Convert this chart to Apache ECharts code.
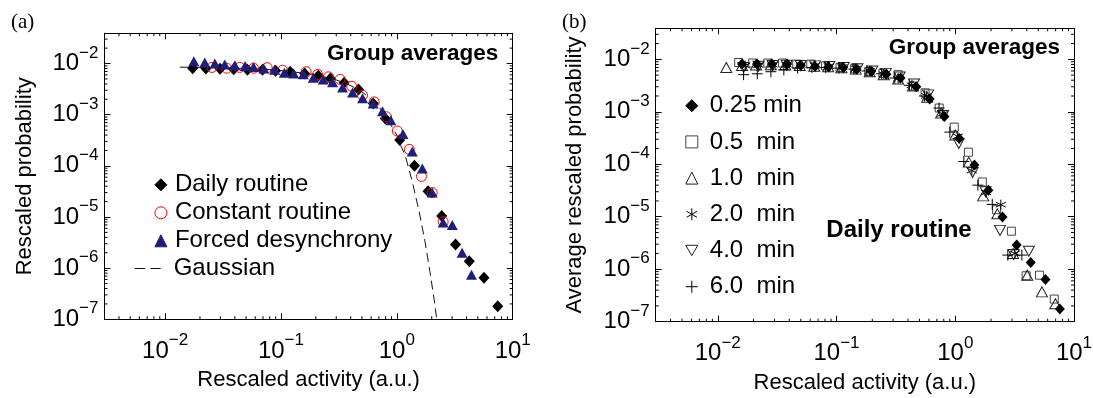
<!DOCTYPE html>
<html>
<head>
<meta charset="utf-8">
<script src="https://cdn.jsdelivr.net/npm/echarts@6/dist/echarts.min.js"></script>
<style>
  html, body { margin: 0; padding: 0; background: #fff; }
  #chart { width: 1093px; height: 398px; }
</style>
</head>
<body>
<div id="chart"></div>
<script>
// ---- panel (a): group averages ----
const dailyX = [0.0173, 0.0225, 0.0298, 0.0391, 0.0514, 0.0693, 0.0898, 0.120, 0.160, 0.210, 0.267, 0.351, 0.467, 0.626, 0.795, 1.06, 1.42, 1.86, 2.44, 3.21, 4.22, 5.65, 7.43];
const dailyY = [8.1e-3, 8.0e-3, 7.9e-3, 7.7e-3, 7.6e-3, 7.6e-3, 7.2e-3, 6.9e-3, 6.4e-3, 5.8e-3, 5.1e-3, 4.2e-3, 3.1e-3, 1.65e-3, 8.4e-4, 3.2e-4, 1.0e-4, 3.2e-5, 1.04e-5, 2.9e-6, 1.37e-6, 6.5e-7, 1.8e-7];

const constX = [0.0254, 0.034, 0.044, 0.058, 0.076, 0.103, 0.165, 0.207, 0.257, 0.324, 0.407, 0.506, 0.638, 0.814, 1.01, 1.28, 1.63, 2.02, 2.51];
const constY = [8.4e-3, 8.1e-3, 8.4e-3, 8.1e-3, 8.3e-3, 7.4e-3, 6.9e-3, 6.1e-3, 5.5e-3, 4.9e-3, 3.6e-3, 2.4e-3, 1.78e-3, 9.1e-4, 4.8e-4, 2.1e-4, 6.2e-5, 3.0e-5, 8.1e-6];

const forcedX = [0.0177, 0.022, 0.0269, 0.0327, 0.040, 0.049, 0.058, 0.071, 0.088, 0.107, 0.129, 0.156, 0.19, 0.232, 0.279, 0.34, 0.415, 0.506, 0.625, 0.752, 0.887, 1.13, 1.36, 1.66, 2.02, 2.51, 3.01, 3.66, 4.41];
const forcedY = [1.11e-2, 1.05e-2, 1.0e-2, 9.6e-3, 9.3e-3, 9.0e-3, 8.6e-3, 8.0e-3, 7.6e-3, 6.6e-3, 6.4e-3, 6.2e-3, 5.3e-3, 4.9e-3, 4.3e-3, 3.4e-3, 2.7e-3, 2.1e-3, 1.66e-3, 1.17e-3, 7.8e-4, 4.2e-4, 1.9e-4, 8.9e-5, 3.0e-5, 7.8e-6, 7.0e-6, 2.0e-6, 7.4e-7];

const gaussX = [0.0134, 0.02, 0.03, 0.05, 0.08, 0.12, 0.2, 0.3, 0.4, 0.5, 0.6, 0.7, 0.8, 0.9, 1.0, 1.08, 1.18, 1.36, 1.56, 1.75, 1.93, 2.09, 2.21];
const gaussY = [8.5e-3, 8.4e-3, 8.3e-3, 8.0e-3, 7.6e-3, 7.0e-3, 6.0e-3, 4.8e-3, 3.7e-3, 2.8e-3, 2.0e-3, 1.45e-3, 9.0e-4, 6.0e-4, 4.0e-4, 2.5e-4, 1.62e-4, 4.9e-5, 1.26e-5, 3.3e-6, 8.6e-7, 2.6e-7, 1.0e-7];

// ---- panel (b): daily routine, different bin widths ----
const m025X = [0.016, 0.0214, 0.0286, 0.0384, 0.05, 0.0659, 0.0854, 0.114, 0.147, 0.196, 0.263, 0.346, 0.47, 0.609, 0.811, 1.08, 1.45, 1.9, 2.5, 3.29, 4.32, 5.75, 7.6];
const m025Y = [8.1e-3, 8.1e-3, 8.1e-3, 8.1e-3, 7.7e-3, 7.3e-3, 7.2e-3, 7.0e-3, 6.5e-3, 5.9e-3, 5.2e-3, 4.4e-3, 3.0e-3, 1.75e-3, 8.1e-4, 3.1e-4, 9.7e-5, 3.2e-5, 9.9e-6, 2.9e-6, 1.34e-6, 6.4e-7, 1.75e-7];

const m05X = [0.015, 0.0197, 0.0264, 0.0351, 0.0462, 0.0607, 0.0807, 0.107, 0.142, 0.187, 0.246, 0.33, 0.44, 0.557, 0.732, 0.98, 1.29, 1.69, 2.23, 2.97, 3.95, 5.12, 6.82];
const m05Y = [8.7e-3, 8.5e-3, 8.5e-3, 8.5e-3, 8.1e-3, 8.1e-3, 7.5e-3, 7.0e-3, 6.6e-3, 5.9e-3, 5.4e-3, 5.1e-3, 3.1e-3, 2.3e-3, 1.18e-3, 5.1e-4, 1.7e-4, 4.6e-5, 1.36e-5, 5.3e-6, 7.5e-7, 7.7e-7, 2.7e-7];

const m1X = [0.0118, 0.016, 0.021, 0.028, 0.037, 0.049, 0.065, 0.085, 0.11, 0.145, 0.19, 0.25, 0.33, 0.44, 0.58, 0.76, 1.0, 1.3, 1.72, 2.26, 3.07, 4.04, 5.37, 6.97];
const m1Y = [7.0e-3, 7.6e-3, 7.8e-3, 7.9e-3, 7.8e-3, 7.6e-3, 7.4e-3, 7.2e-3, 6.9e-3, 6.5e-3, 5.8e-3, 5.1e-3, 4.2e-3, 3.1e-3, 1.9e-3, 9.5e-4, 3.6e-4, 1.1e-4, 2.5e-5, 1.14e-5, 2.0e-6, 7.7e-7, 3.7e-7, 2.2e-7];

const m2X = [0.017, 0.022, 0.029, 0.038, 0.05, 0.066, 0.086, 0.112, 0.146, 0.19, 0.25, 0.33, 0.43, 0.57, 0.78, 1.05, 1.38, 1.82, 2.42, 3.18];
const m2Y = [7.6e-3, 7.8e-3, 7.9e-3, 7.9e-3, 7.8e-3, 7.6e-3, 7.4e-3, 7.1e-3, 6.7e-3, 6.0e-3, 5.2e-3, 4.3e-3, 3.2e-3, 2.0e-3, 9.1e-4, 3.4e-4, 7.6e-5, 2.9e-5, 1.7e-5, 2.0e-6];

const m4X = [0.0165, 0.022, 0.029, 0.038, 0.05, 0.066, 0.087, 0.115, 0.15, 0.2, 0.26, 0.34, 0.45, 0.59, 0.79, 1.07, 1.4, 1.8, 2.38, 3.1, 4.17];
const m4Y = [7.0e-3, 7.4e-3, 7.6e-3, 7.7e-3, 7.6e-3, 7.5e-3, 7.3e-3, 7.0e-3, 6.6e-3, 6.0e-3, 5.4e-3, 4.6e-3, 3.4e-3, 2.1e-3, 8.5e-4, 2.5e-4, 7.0e-5, 3.0e-5, 5.5e-6, 1.9e-6, 2.2e-6];

const m6X = [0.0165, 0.0215, 0.028, 0.036, 0.047, 0.062, 0.081, 0.105, 0.14, 0.18, 0.24, 0.31, 0.41, 0.55, 0.73, 0.9, 1.18, 1.55, 2.05, 2.77, 3.64];
const m6Y = [5.1e-3, 5.3e-3, 5.8e-3, 6.3e-3, 6.8e-3, 7.0e-3, 7.0e-3, 6.8e-3, 6.5e-3, 6.0e-3, 5.3e-3, 4.4e-3, 3.2e-3, 2.0e-3, 1.18e-3, 4.1e-4, 1.13e-4, 4.0e-5, 1.72e-5, 1.86e-6, 1.86e-6];

// tick labels (decades)
const xMajor = [0.01, 0.1, 1, 10];
const yMajor = [1e-7, 1e-6, 1e-5, 1e-4, 1e-3, 1e-2];

const X_MIN = 0.003, X_MAX = 10;
const Y_MIN = 1e-7, Y_MAX = 0.039;
const FONT = 'Liberation Sans';

function pts(xs, ys) {
    return xs.map((x, i) => [x, ys[i]]);
}

// 2..9 x 10^e, the minor tick positions of a log axis
function minorTicks(lo, hi, min, max) {
    const v = [];
    for (let e = lo; e <= hi; e++) {
        for (let m = 2; m <= 9; m++) v.push(+(m * Math.pow(10, e)).toPrecision(3));
    }
    return v.filter((d) => d > min * 1.01 && d < max);
}
const xMinor = minorTicks(-3, 0, X_MIN, X_MAX);
const yMinor = minorTicks(-7, -2, Y_MIN, Y_MAX);

function supLabel(v) {
    const e = Math.round(Math.log10(v));
    return '{b|10}{s|' + (e < 0 ? '\u2212' + (-e) : e) + '}';
}
const richSup = {
    b: { fontSize: 24, lineHeight: 38, fontFamily: FONT, color: '#000' },
    s: { fontSize: 17, lineHeight: 17, verticalAlign: 'top', fontFamily: FONT, color: '#000' },
};

function logAxis(grid, min, max, pos, extra) {
    return Object.assign({
        type: 'log',
        logBase: 10,
        gridIndex: grid,
        min: min,
        max: max,
        position: pos,
        splitLine: { show: false },
        minorTick: { show: false },
        axisLine: { show: true, onZero: false, lineStyle: { color: '#000', width: 1 } },
        axisTick: { show: true, inside: true, length: 6, lineStyle: { color: '#000', width: 1 } },
        axisLabel: { show: false },
    }, extra || {});
}

function mainAxis(grid, min, max, pos, major, name, gap, margin) {
    return logAxis(grid, min, max, pos, {
        axisLabel: { show: true, customValues: major, formatter: supLabel, rich: richSup, margin: margin, color: '#000' },
        name: name,
        nameLocation: 'middle',
        nameGap: gap,
        nameTextStyle: { fontFamily: FONT, fontSize: 22, color: '#000' },
    });
}

// minor ticks: short marks on the four box sides, placed through the axes' own scale
function minorTickSeries(xi, yi) {
    const mark = (data, size, offset) => ({
        type: 'scatter', xAxisIndex: xi, yAxisIndex: yi, silent: true, clip: false,
        data: data, symbol: 'rect', symbolSize: size, symbolOffset: offset,
        itemStyle: { color: '#000', opacity: 1 }, z: 10,
    });
    return [
        mark(xMinor.map((v) => [v, Y_MIN]), [1, 3], [0, -1.5]),
        mark(xMinor.map((v) => [v, Y_MAX]), [1, 3], [0, 1.5]),
        mark(yMinor.map((v) => [X_MIN, v]), [3, 1], [1.5, 0]),
        mark(yMinor.map((v) => [X_MAX, v]), [3, 1], [-1.5, 0]),
    ];
}

const legendText = (pad) => ({ fontFamily: FONT, fontSize: 24, lineHeight: 24, color: '#000', padding: [0, 0, 0, pad] });
const hollow = (c) => ({ color: 'rgba(255,255,255,0)', borderColor: c, borderWidth: 1, opacity: 1 });

const option = {
    animation: false,
    backgroundColor: '#fff',
    grid: [
        { left: 104.5, top: 33.3, width: 408.2, height: 286, outerBoundsMode: 'none', containLabel: false },
        { left: 655.7, top: 28.3, width: 418.3, height: 293.4, outerBoundsMode: 'none', containLabel: false },
    ],
    xAxis: [
        mainAxis(0, X_MIN, X_MAX, 'bottom', xMajor, 'Rescaled activity (a.u.)', 50, 13),
        logAxis(0, X_MIN, X_MAX, 'top'),
        mainAxis(1, X_MIN, X_MAX, 'bottom', xMajor, 'Rescaled activity (a.u.)', 50, 13),
        logAxis(1, X_MIN, X_MAX, 'top'),
    ],
    yAxis: [
        mainAxis(0, Y_MIN, Y_MAX, 'left', yMajor, 'Rescaled probability', 69, 6),
        logAxis(0, Y_MIN, Y_MAX, 'right'),
        mainAxis(1, Y_MIN, Y_MAX, 'left', yMajor, 'Average rescaled probability', 70, 6),
        logAxis(1, Y_MIN, Y_MAX, 'right'),
    ],
    legend: [
        {
            data: ['Daily routine', 'Constant routine', 'Forced desynchrony'],
            orient: 'vertical', left: 154.4, top: 172.8, padding: 0,
            itemWidth: 12, itemHeight: 12, itemGap: 4, selectedMode: false,
            itemStyle: { borderWidth: 1 },
            textStyle: legendText(3),
        },
        {
            data: [{ name: 'Gaussian', icon: 'path://M0 0H10V1H0ZM15 0H25V1H15Z' }],
            orient: 'vertical', left: 134.7, top: 256.4, padding: 0,
            itemWidth: 26, itemHeight: 1.2, selectedMode: false,
            itemStyle: { color: '#111', borderWidth: 0 },
            textStyle: legendText(8),
        },
        {
            data: ['0.25 min', '0.5  min', '1.0  min', '2.0  min', '4.0  min', '6.0  min'],
            orient: 'vertical', left: 685.3, top: 93.7, padding: 0,
            itemWidth: 12, itemHeight: 12, itemGap: 12.2, selectedMode: false,
            itemStyle: { borderWidth: 1 },
            textStyle: legendText(7),
        },
    ],
    graphic: [
        { type: 'text', x: 11, y: 12, style: { text: '(a)', font: '21px "Liberation Serif"', fill: '#000' } },
        { type: 'text', x: 562, y: 12, style: { text: '(b)', font: '21px "Liberation Serif"', fill: '#000' } },
        {
            type: 'text', x: 498.3, y: 54.1,
            style: { text: 'Group averages', font: 'bold 22.5px "Liberation Sans"', fill: '#000', textAlign: 'right', textVerticalAlign: 'middle', align: 'right', verticalAlign: 'middle' },
        },
        {
            type: 'text', x: 1060, y: 47.6,
            style: { text: 'Group averages', font: 'bold 22.5px "Liberation Sans"', fill: '#000', textAlign: 'right', textVerticalAlign: 'middle', align: 'right', verticalAlign: 'middle' },
        },
        {
            type: 'text', x: 899, y: 230.3,
            style: { text: 'Daily routine', font: 'bold 24px "Liberation Sans"', fill: '#000', textAlign: 'center', textVerticalAlign: 'middle', align: 'center', verticalAlign: 'middle' },
        },
    ],
    series: [
        {
            name: 'Gaussian', type: 'line', xAxisIndex: 0, yAxisIndex: 0,
            data: pts(gaussX, gaussY), symbol: 'none', showSymbol: false,
            itemStyle: { color: '#111' },
            lineStyle: { color: '#111', width: 1, type: [9, 5] },
            z: 1,
        },
        {
            name: 'Daily routine', type: 'scatter', xAxisIndex: 0, yAxisIndex: 0,
            data: pts(dailyX, dailyY), symbol: 'diamond', symbolSize: [11, 12],
            itemStyle: { color: '#000', borderColor: '#000', borderWidth: 0, opacity: 1 },
            z: 2,
        },
        {
            name: 'Constant routine', type: 'scatter', xAxisIndex: 0, yAxisIndex: 0,
            data: pts(constX, constY), symbol: 'circle', symbolSize: 10,
            itemStyle: hollow('#ff0000'),
            z: 3,
        },
        {
            name: 'Forced desynchrony', type: 'scatter', xAxisIndex: 0, yAxisIndex: 0,
            data: pts(forcedX, forcedY), symbol: 'triangle', symbolSize: [11, 10],
            itemStyle: { color: '#1f1f7a', borderColor: '#1f1f7a', borderWidth: 0, opacity: 1 },
            z: 4,
        },
        {
            name: '0.25 min', type: 'scatter', xAxisIndex: 2, yAxisIndex: 2,
            data: pts(m025X, m025Y), symbol: 'diamond', symbolSize: [10, 11],
            itemStyle: { color: '#000', borderColor: '#000', borderWidth: 0, opacity: 1 },
            z: 6,
        },
        {
            name: '0.5  min', type: 'scatter', xAxisIndex: 2, yAxisIndex: 2,
            data: pts(m05X, m05Y), symbol: 'rect', symbolSize: 8,
            itemStyle: hollow('#444'),
            z: 3,
        },
        {
            name: '1.0  min', type: 'scatter', xAxisIndex: 2, yAxisIndex: 2,
            data: pts(m1X, m1Y), symbol: 'triangle', symbolSize: [11, 10],
            itemStyle: hollow('#222'),
            z: 3,
        },
        {
            name: '2.0  min', type: 'scatter', xAxisIndex: 2, yAxisIndex: 2,
            data: pts(m2X, m2Y), symbol: 'path://M5 0L5 10M0.67 2.5L9.33 7.5M0.67 7.5L9.33 2.5', symbolSize: 10,
            itemStyle: { color: 'rgba(0,0,0,0)', borderColor: '#000', borderWidth: 1, opacity: 1 },
            z: 4,
        },
        {
            name: '4.0  min', type: 'scatter', xAxisIndex: 2, yAxisIndex: 2,
            data: pts(m4X, m4Y), symbol: 'path://M0 0L10 0L5 8.66Z', symbolSize: [11, 10],
            itemStyle: hollow('#222'),
            z: 3,
        },
        {
            name: '6.0  min', type: 'scatter', xAxisIndex: 2, yAxisIndex: 2,
            data: pts(m6X, m6Y), symbol: 'path://M5 0L5 10M0 5L10 5', symbolSize: 11,
            itemStyle: { color: 'rgba(0,0,0,0)', borderColor: '#000', borderWidth: 1, opacity: 1 },
            z: 4,
        },
        ...minorTickSeries(0, 0),
        ...minorTickSeries(2, 2),
    ],
};

const chart = echarts.init(document.getElementById('chart'), null, { renderer: 'canvas' });
chart.setOption(option);
</script>
</body>
</html>
